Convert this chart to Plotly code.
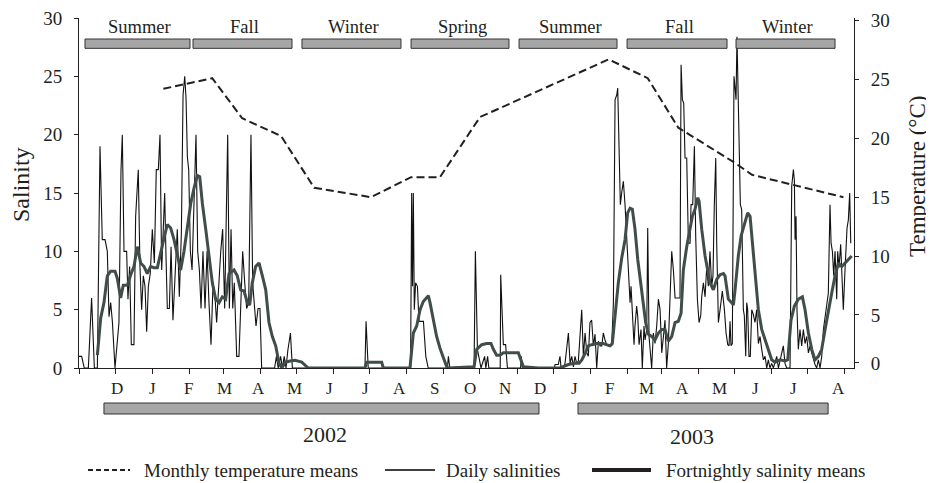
import plotly.graph_objects as go
import pandas as pd

BASE = pd.Timestamp("2001-11-01")
TOTAL_DAYS = 645.8  # x-axis span in days from BASE

# ---------------- data (day offset from 2001-11-01, value) ----------------
daily_day = [0, 2.2, 4.4, 7.8, 10.5, 12.8, 15.3, 17.5, 19.4, 21.7, 23.6, 25, 26.4, 27.8, 30, 32, 33.3, 35, 36.1, 37.5,
             39.7, 40.8, 42.2, 43.6, 45.8, 47.2, 49.4, 50.8, 52.2, 53.6, 55, 56.4, 57.8, 59.4, 61.1, 62.8, 64.4, 66.1,
             67.5, 68.9, 70, 71.4, 72.5, 73.6, 75.3, 76.7, 78.3, 80.3, 81.9, 83.6, 85.3, 86.7, 88.1, 89.2, 90.3, 91.4,
             92.8, 94.2, 95.6, 97.5, 98.9, 100.3, 101.7, 103.3, 105, 106.7, 108.3, 110, 111.7, 113.3, 114.7, 116.4,
             118.1, 119.7, 121.4, 123.9, 125.3, 126.7, 128.1, 129.4, 131.4, 133.3, 135, 136.4, 138.1, 139.7, 141.4,
             143.3, 144.7, 146.1, 147.5, 149.2, 150.8, 152.2,
             163, 164.5, 166, 168, 169.5, 171, 172.5, 174, 176.2, 177.8, 238.3, 239.2, 241, 276.3, 277.2, 277.9, 278.6,
             279.4, 280.5, 282, 283.3, 287, 289, 291, 307, 307.8, 309, 329.2, 330.3, 332, 333.3, 335, 338, 339, 340.5,
             341.5, 351, 351.4, 353.6, 355.5, 357, 368, 368.5, 369.5, 396,
             396.7, 399.4, 400.8, 401.7, 403.6, 405, 407.8, 409.2, 410.6, 412, 413.3, 414.7, 416.1, 418.9, 420.3, 421.7,
             423.1, 424.4, 425.8, 427.2, 428.6, 430, 431.4, 432.8, 434.2, 435.6, 436.9, 438.3, 439.7, 441.1, 442.5,
             443.9, 445.3, 446.7, 448.1, 448.9, 450, 451.1, 452.2, 453.6, 455, 456.4, 457.8, 459.2, 460, 461.4, 462.5,
             463.3, 464.7, 465.6, 466.7, 468.3, 469.4, 470.8, 471.7, 473.1, 473.9, 475, 476.1, 477.2, 478.6, 480,
             481.4, 482.8, 484.2, 485.6, 487, 488.3, 489.7, 491.1, 492.5, 493.9, 495.3, 496.7, 498.9, 500.8, 501.7,
             502.8, 503.9, 505, 506.4, 507.8, 509.2, 510, 511.4, 512.8, 513.9, 515.3, 516.7, 518.1, 518.9, 520.3,
             521.7, 523.1, 524.4, 525.8, 527.2, 528.3, 529.4, 530.6,
             531.4, 532.8, 534.2, 536.1, 537.8, 539.2, 540.6, 541.7, 542.5, 543.3, 544.4, 545.3, 545.8, 546.7, 547.5,
             548.3, 548.9, 550, 551.1, 552.2, 553.6, 554.4, 555.6, 556.4, 557.2, 558.3, 559.4, 560.6, 561.9, 563.3,
             564.7, 566.1, 567.5, 568.9, 570.3, 571.7, 573.1, 574.4, 575.8, 577.2, 578.6, 581.4, 582.8, 586.9, 588.3,
             589.7, 592.5, 593.9, 595.3, 596.1, 596.7, 597.5, 598.3, 599.4, 600.8, 602.2, 603.6, 605, 606.4, 607.8,
             609.2, 610.6, 611.9, 613.3, 614.7, 616.1, 617.5, 618.9, 620.3, 621.7, 623.1, 624.4, 625.8, 626.7, 627.8,
             628.9, 630, 631.4, 632.2, 633.3, 634.7, 636.1, 636.9, 638.3, 639.2, 640, 641.1, 642.2, 643.1]
daily_sal = [1, 1, 0, 0, 6, 0, 0, 19, 11, 11, 10, 4.4, 5.6, 4, 0, 2.7, 3.9, 17, 20, 10,
             10, 5.9, 8.7, 2, 2, 13, 17, 8.7, 5, 7.9, 7, 3.1, 7, 8.1, 11.9, 9, 17, 17,
             20, 8.4, 11.3, 15, 9.6, 5.1, 5.1, 10.4, 4.1, 8.4, 11.9, 6.1, 11.6, 23.4, 25, 23.1, 18.1, 17,
             10, 8.4, 14.1, 20, 10, 8.4, 5.1, 10, 5.1, 10, 5.6, 2, 7.3, 6.1, 3.9, 7.3,
             10, 11.9, 5.1, 20, 5.1, 11.9, 5.1, 7.3, 1, 1, 7, 10, 7.3, 5.1, 5.6,
             20, 7.3, 5.6, 3.6, 5.1, 5.1, 0,
             0, 1, 0, 1, 0, 1, 0, 1.5, 3, 0, 0, 4, 0, 0, 15, 7, 15,
             5, 7.3, 7, 4, 4, 1, 0, 0, 1, 0, 0, 10, 1.6, 1, 0, 1, 0, 1,
             0, 0, 8, 2, 2, 0, 0, 1, 0, 0,
             0.3, 0.3, 1, 0, 0, 0.4, 3, 0.4, 1, 0.1, 1, 0.4, 0.6, 5, 1, 3,
             1.3, 1, 3.9, 4.1, 1.9, 2.9, 0, 2.3, 1.9, 1.9, 3, 2.4, 2, 1.9, 2,
             1.9, 5.6, 23, 23.4, 24, 18, 14, 15, 16, 14, 11, 8, 5.6, 7, 4, 2,
             3.6, 5.3, 4.4, 2, 3.3, 0, 3.6, 2.4, 3.3, 12, 2.7, 1, 0, 3, 2.1,
             3.6, 5.9, 5, 1.3, 2.7, 4.1, 0, 2.1, 6, 10, 8.4, 6, 6, 6, 26,
             23, 22.7, 18, 18, 10.7, 10.7, 14, 14, 19, 11.3, 5.9, 3.9, 4.5, 6.1, 7.3,
             6.1, 8.7, 7, 10, 7, 7.9, 14, 18,
             10.7, 3.9, 5, 6.6, 5, 3, 2, 1.9, 4, 1.9, 2.1, 13, 25, 24, 23,
             28.4, 25.3, 17.9, 14, 13.6, 5, 4.5, 1, 5.6, 5, 1, 1, 5, 4.6, 3.9,
             5, 2.1, 2.7, 1.6, 0.7, 1, 0, 0.7, 0, 0.4, 0, 1, 0, 1.9, 0.4,
             0, 0, 15.6, 17, 16.1, 11, 13, 5, 1.6, 3.3, 1.9, 3.3, 2.1, 2.7, 1.3,
             1.9, 1.3, 0.7, 0.3, 0, 0.7, 0, 1, 3.3, 4.4, 5.8, 6.4, 14, 10.7, 10,
             7.9, 10, 5.9, 10, 8.6, 10.6, 7, 5, 8.4, 11.3, 12, 12.7, 15, 10.7]

fort_day = [15.3, 18.1, 20.8, 23.6, 26.4, 30, 31.9, 34.7, 36.9, 40.3, 43.1, 45.8, 48.6, 51.4, 54.2, 56.9, 59.7, 62.5,
            65.3, 68.1, 70.8, 73.6, 76.4, 79.2, 81.9, 84.7, 87.5, 90.3, 93.1, 95.8, 98.6, 100.6, 102.8, 105.6, 108.3,
            111.1, 113.9, 116.7, 119.4, 122.2, 125, 129.2, 131.9, 134.7, 137.5, 140.3, 142.2, 144.4, 147.2, 150,
            152.8, 155.6, 158.3, 161.1, 163.9, 166.7, 169, 172, 176, 180, 185.6, 189.7, 191, 238.3, 239.7, 252.2,
            253.6, 275.8, 278.6, 281.4, 284.2, 286.9, 289.7, 291.1, 292.5, 295.3, 298, 300.8, 303.6, 306.4, 307.8,
            329.2, 331.4, 335.6, 339.7, 343.3, 345.3, 348, 350.8, 353.6, 366.1, 368.3, 370.3, 382.8, 400.8, 407.8,
            412.5, 416.7, 419, 421.9, 424.4, 427.2, 431.4, 436.9, 442.5, 444.4, 446.7, 449.4, 452.2, 455, 457.2,
            459.2, 461.1, 463.3, 465.6, 468.3, 470.3, 472.2, 474.4, 477.2, 480, 482.8, 485.6, 488.3, 491.1, 493.9,
            496.7, 499.4, 501.7, 503.6, 506.4, 509.2, 511.1, 513.3, 515.6, 516.7, 518.9, 521.7, 523.9, 525.8, 528.6,
            531.4, 534.2, 537, 538.3, 541.1, 543.9, 545.3, 546.7, 548, 549.4, 551.7, 554.4, 557.2, 559.2, 561.1,
            563.3, 566.1, 568.9, 571.7, 574.4, 577.2, 580, 584.2, 588.3, 590.6, 593.3, 596.1, 599.4, 602.8, 605,
            607.8, 610.6, 613.3, 616.1, 618.9, 621.7, 624.4, 627.2, 630, 632.8, 635.6, 638.3, 641.1, 643.9]
fort_sal = [1.1, 4.3, 5.6, 7.9, 8.3, 8.3, 7.7, 6, 7.1, 7.1, 8, 8.7, 10.4, 9, 8.7, 8.1, 8.7, 8.6,
            8.6, 10, 11.1, 12.3, 12, 11, 9.6, 8.4, 10, 11.9, 14.1, 15.4, 16.5, 16.4, 14.1, 11.9, 9.6,
            7.3, 5.9, 5.6, 6.1, 5.9, 8.1, 8.4, 7.9, 6.7, 6.6, 5.6, 5.4, 7.3, 8.7, 9,
            7.9, 6.7, 3.9, 2.7, 1.9, 0.4, 0, 0.5, 0.6, 0.66, 0.5, 0.15, 0, 0, 0.5, 0.5,
            0, 0, 3, 3.6, 5, 5.7, 6.1, 6.2, 5.6, 4.1, 2.7, 1.7, 0.9, 0.1, 0,
            0.1, 1.6, 2, 2.1, 2.1, 1.6, 1.1, 1.1, 1.3, 1.3, 0.6, 0.1, 0, 0, 0.3,
            0.4, 0.4, 0.7, 1.3, 1.9, 2, 2.1, 2.1, 1.9, 2.1, 4.7, 7.3, 9.4, 11, 13.3,
            13.7, 13.6, 11.9, 9.3, 7, 5, 3.9, 2.9, 2.7, 2.4, 3, 3.3, 3.3, 2.3, 2.7,
            3.9, 4, 4.7, 8.4, 10.4, 12.1, 13, 13.6, 14.6, 14.3, 11.9, 9.6, 8.4, 7.3, 6.7,
            7.6, 8, 8.1, 7.9, 5.9, 5.6, 5.4, 6.7, 8.1, 9.6, 11.3, 12.4, 13.3, 13, 10.7,
            7.9, 5, 3.3, 2.4, 1.6, 0.7, 0.5, 0.7, 0.6, 0.7, 4.1, 5.3, 5.9, 6.1, 5,
            3, 1.6, 0.7, 1, 1.6, 3.3, 5, 6.4, 7.9, 9, 8.7, 9, 9.3, 9.6]

temp_day = [70.3, 111, 136, 168.3, 196, 243.3, 276.7, 300.8, 334.2, 441.4, 473.9, 499.4, 546.7, 560.8, 637]
temp_val = [24.2, 25.1, 21.7, 20.2, 15.8, 15.0, 16.7, 16.7, 21.8, 26.7, 25.1, 20.9, 17.9, 16.9, 15.0]

month_letters = ["D", "J", "F", "M", "A", "M", "J", "J", "A", "S", "O",
                 "N", "D", "J", "F", "M", "A", "M", "J", "J", "A"]
season_names = ["Summer", "Fall", "Winter", "Spring", "Summer", "Fall", "Winter"]
year_names = ["2002", "2003"]

# ---------------- layout helpers (positions, not data) ----------------
season_spans = [(5, 92.5), (95, 177.5), (185.8, 268.3), (276.7, 358.3),
                (366.7, 448.3), (456.7, 540), (547.5, 630)]
year_spans = [(20.8, 383.3), (415.8, 624.2)]
month_label_px = [117, 152, 188, 224, 258, 294, 329, 365, 399, 434, 470,
                  505, 540, 574, 609, 646, 682, 719, 755, 793, 838]

# plot area in the target picture
L_REF, T_REF, PW, PH = 79, 18, 775, 350
W, H = 934, 483
PAGE_OFF = 8  # default body margin of the html page
ML, MT = L_REF - PAGE_OFF, T_REF - PAGE_OFF
MR, MB = W - ML - PW, H - MT - PH


def to_date(days):
    return [BASE + pd.Timedelta(days=float(d)) for d in days]


def px2paper_x(px):
    return (px - L_REF) / PW


def py2paper_y(py):
    return (T_REF + PH - py) / PH


FONT = "Liberation Serif, Times New Roman, serif"
INK = "#231f20"

fig = go.Figure()
fig.add_trace(go.Scatter(x=to_date(daily_day), y=daily_sal, mode="lines",
                         line=dict(color="#111111", width=1.1), name="Daily salinities",
                         showlegend=False))
fig.add_trace(go.Scatter(x=to_date(fort_day), y=fort_sal, mode="lines",
                         line=dict(color="#414d4b", width=3), name="Fortnightly salinity means",
                         showlegend=False))
fig.add_trace(go.Scatter(x=to_date(temp_day), y=temp_val, mode="lines", yaxis="y2",
                         line=dict(color=INK, width=2, dash="8px,4px"),
                         name="Monthly temperature means", showlegend=False))

shapes = []
annotations = []


def label(x, y, text, size, xref="paper", yref="paper", xanchor="center", angle=0):
    annotations.append(dict(xref=xref, yref=yref, x=x, y=y, text=text, showarrow=False,
                            xanchor=xanchor, yanchor="middle", textangle=angle,
                            font=dict(family=FONT, size=size, color=INK)))


# season bars
for name, (d0, d1) in zip(season_names, season_spans):
    shapes.append(dict(type="rect", xref="x", yref="y",
                       x0=BASE + pd.Timedelta(days=d0), x1=BASE + pd.Timedelta(days=d1),
                       y0=27.4, y1=28.2, fillcolor="#a6a6a6",
                       line=dict(color="#333333", width=1), layer="above"))
    label(BASE + pd.Timedelta(days=(d0 + d1) / 2 + 2), 29.25, name, 18.5, xref="x", yref="y")

# year bars below axis
for name, (d0, d1) in zip(year_names, year_spans):
    shapes.append(dict(type="rect", xref="paper", yref="paper",
                       x0=d0 / TOTAL_DAYS, x1=d1 / TOTAL_DAYS,
                       y0=py2paper_y(414), y1=py2paper_y(403), fillcolor="#a6a6a6",
                       line=dict(color="#333333", width=1)))
label(px2paper_x(325), py2paper_y(434), year_names[0], 22)
label(px2paper_x(692), py2paper_y(436), year_names[1], 22)

# month letters
for letter, px in zip(month_letters, month_label_px):
    label(px2paper_x(px), py2paper_y(388), letter, 17)

# axis titles
label(px2paper_x(21), py2paper_y(184), "Salinity", 24, angle=-90)
label(px2paper_x(917), py2paper_y(177), "Temperature (°C)", 23, angle=-90)

# legend (manual)
ly = py2paper_y(470)
leg = [("Monthly temperature means", 88, 130, 142, dict(color=INK, width=2, dash="5px,3px")),
       ("Daily salinities", 385, 435, 444, dict(color="#000000", width=1.3)),
       ("Fortnightly salinity means", 592, 651, 664, dict(color=INK, width=4))]
for text, x0, x1, tx, ln in leg:
    shapes.append(dict(type="line", xref="paper", yref="paper",
                       x0=px2paper_x(x0), x1=px2paper_x(x1), y0=ly, y1=ly, line=ln))
    label(px2paper_x(tx), ly, text, 19, xanchor="left")

fig.update_layout(
    width=W, height=H,
    margin=dict(l=ML, r=MR, t=MT, b=MB, pad=0, autoexpand=False),
    paper_bgcolor="white", plot_bgcolor="white",
    font=dict(family=FONT, color=INK),
    showlegend=False,
    xaxis=dict(type="date", range=[BASE, BASE + pd.Timedelta(days=TOTAL_DAYS)],
               tick0=BASE, dtick="M1", ticks="outside", ticklen=5, tickwidth=1, tickcolor=INK,
               showticklabels=False, showline=True, linecolor=INK, linewidth=1,
               showgrid=False, zeroline=False),
    yaxis=dict(range=[0, 30], tickvals=[0, 5, 10, 15, 20, 25, 30], ticks="outside",
               ticklen=4, tickwidth=1, tickcolor=INK, showline=True, linecolor=INK, linewidth=1,
               showgrid=False, zeroline=False, ticklabelstandoff=8, ticklabeloverflow="allow",
               tickfont=dict(family=FONT, size=19, color=INK)),
    yaxis2=dict(overlaying="y", side="right", range=[0.50, 30.21],
                tickvals=[0.93, 5, 10, 15, 20, 25, 30],
                ticktext=["0", "5", "10", "15", "20", "25", "30"],
                ticks="outside", ticklen=4, tickwidth=1, tickcolor=INK,
                showline=True, linecolor=INK, linewidth=1, showgrid=False, zeroline=False,
                ticklabelstandoff=8, ticklabeloverflow="allow",
                tickfont=dict(family=FONT, size=19, color=INK)),
    shapes=shapes, annotations=annotations,
)

fig.write_html("out.html")
